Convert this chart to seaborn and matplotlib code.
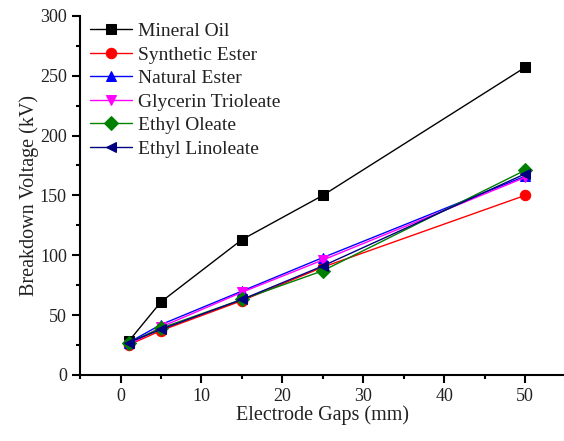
import numpy as np
import pandas as pd
import seaborn as sns
import matplotlib.pyplot as plt
from matplotlib.ticker import MultipleLocator

# donnees
gaps = [1, 5, 15, 25, 50]
mineral_oil = [28, 61, 113, 150, 257]
synthetic_ester = [25, 37, 62, 90, 150]
natural_ester = [27, 42, 70, 98, 166]
glycerin_trioleate = [25, 40, 69, 96, 165]
ethyl_oleate = [27, 39, 63, 87, 171]
ethyl_linoleate = [27, 38, 63, 91, 168]

noms = ["Mineral Oil", "Synthetic Ester", "Natural Ester",
        "Glycerin Trioleate", "Ethyl Oleate", "Ethyl Linoleate"]
series = [mineral_oil, synthetic_ester, natural_ester,
          glycerin_trioleate, ethyl_oleate, ethyl_linoleate]
couleurs = ["black", "red", "blue", "magenta", "green", "navy"]
marqueurs = ["s", "o", "^", "v", "D", "<"]

sns.set_style("ticks")
plt.rcParams['font.family'] = ['Liberation Serif', 'DejaVu Serif']

fig = plt.figure(figsize=(5.64, 4.41), dpi=100)
ax = fig.add_axes([0.142, 0.150, 0.858, 0.814])

for nom, vals, c, m in zip(noms, series, couleurs, marqueurs):
    sns.lineplot(x=gaps, y=vals, ax=ax, color=c, marker=m, markersize=7.5,
                 markeredgecolor=c, linewidth=1, label=nom)

ax.set_xlim(-5, 54.8)
ax.set_ylim(0, 300)
ax.xaxis.set_major_locator(MultipleLocator(10))
ax.xaxis.set_minor_locator(MultipleLocator(5))
ax.yaxis.set_major_locator(MultipleLocator(50))
ax.yaxis.set_minor_locator(MultipleLocator(25))
ax.tick_params(which='major', direction='out', length=6, width=1.5, labelsize=13,
               colors='black', labelcolor='#222222')
ax.tick_params(which='minor', direction='out', length=3, width=1.5, colors='black')
for s in ['left', 'bottom']:
    ax.spines[s].set_linewidth(1.5)
    ax.spines[s].set_color('black')
sns.despine(ax=ax)

ax.set_xlabel("Electrode Gaps (mm)", fontsize=14.5, labelpad=0, color='#222222')
ax.set_ylabel("Breakdown Voltage (kV)", fontsize=14.5, labelpad=1, color='#222222')

leg = ax.legend(loc='upper left', frameon=False, fontsize=14, handlelength=2.15,
                borderpad=0.2, borderaxespad=0.15, labelspacing=0.3, handletextpad=0.3,
                bbox_to_anchor=(0.007, 1.0))
for t in leg.get_texts():
    t.set_color('#222222')

plt.savefig("out.png", dpi=100)
